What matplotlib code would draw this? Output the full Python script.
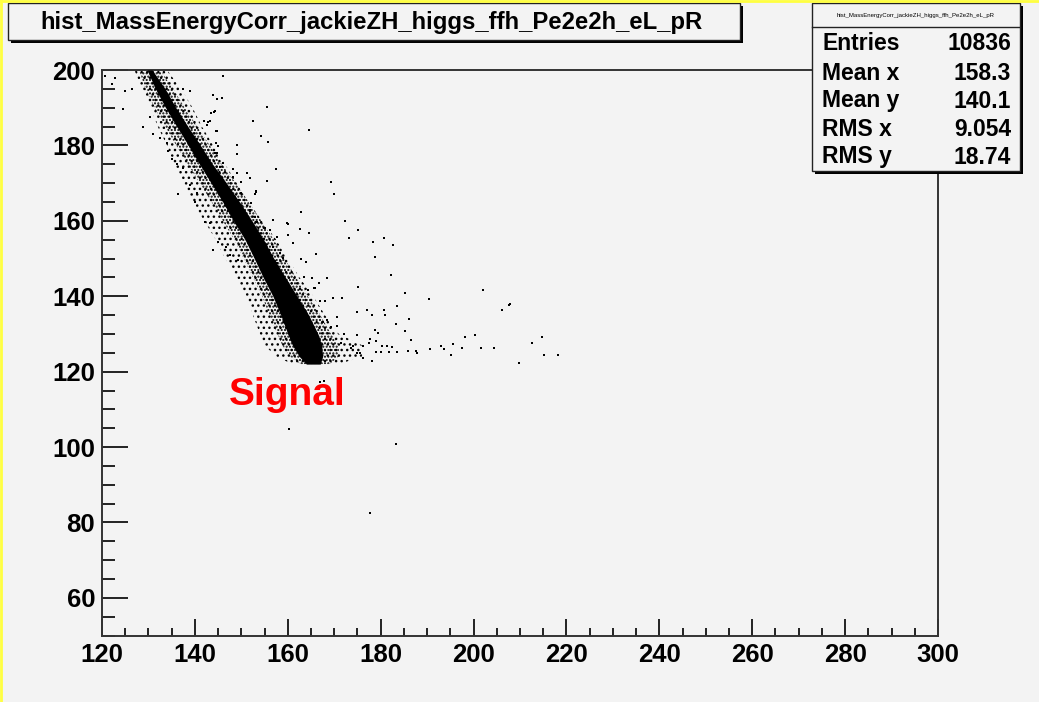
import matplotlib
matplotlib.use("Agg")
import matplotlib.pyplot as plt
from matplotlib.patches import Rectangle
from matplotlib.ticker import MultipleLocator

# ---------------- data ----------------
title = "hist_MassEnergyCorr_jackieZH_higgs_ffh_Pe2e2h_eL_pR"
stats_labels = ["Entries", "Mean x", "Mean y", "RMS x", "RMS y"]
stats_values = ["10836", "158.3", "140.1", "9.054", "18.74"]

x_ticks = [120, 140, 160, 180, 200, 220, 240, 260, 280, 300]
y_ticks = [60, 80, 100, 120, 140, 160, 180, 200]

# dense core of the correlation band (y level, left x, right x)
band_y = [200, 195, 190, 185, 180, 175, 170, 165, 160, 155, 150, 145, 140, 135, 130, 127, 124, 122]
core_left = [129.7, 131.5, 133.7, 136.1, 138.6, 141.0, 143.5, 146.0, 148.3, 150.8, 152.8, 154.7, 156.8, 158.5, 160.0, 161.0, 162.5, 164.0]
core_right = [130.8, 133.6, 135.9, 138.5, 141.2, 143.8, 146.8, 149.6, 152.3, 154.8, 157.0, 159.5, 162.0, 164.5, 166.5, 167.3, 167.5, 167.0]
# inner (dense) halo of scattered entries around the core
inner_left = [128.0, 129.3, 131.3, 133.6, 136.0, 138.5, 141.0, 143.6, 146.0, 148.5, 150.5, 152.5, 154.5, 156.0, 157.8, 158.8, 160.5, 162.8]
inner_right = [132.5, 135.3, 137.8, 140.5, 143.2, 145.8, 148.8, 151.6, 154.3, 157.0, 159.3, 161.8, 164.3, 167.0, 169.3, 171.0, 171.0, 169.0]
# outer (sparse) halo
outer_left = [127.0, 128.5, 130.5, 132.0, 134.0, 135.5, 137.5, 139.5, 142.0, 144.5, 146.5, 149.0, 151.0, 152.5, 154.0, 155.0, 157.5, 161.0]
outer_right = [134.0, 137.0, 139.5, 141.5, 144.0, 146.5, 149.0, 151.5, 154.5, 157.5, 160.0, 162.5, 165.5, 168.0, 171.0, 176.0, 176.0, 171.0]

# isolated entries
out_x = [169.3, 170.0, 162.9, 160.0, 162.6, 164.6, 172.3, 175.2, 173.2, 178.4, 180.7, 182.7, 166.1, 178.8,
         162.9, 163.9, 165.2, 168.4, 182.3, 175.2, 185.2, 190.4, 202.0, 183.6, 207.6, 207.8, 206.2, 169.7,
         171.7, 166.9, 168.1, 174.9, 177.1, 178.1, 180.7, 181.0, 186.0, 183.3, 185.2, 186.5, 174.8, 178.8,
         179.4, 198.2, 200.4, 193.0, 193.6, 195.5, 197.5, 201.7, 204.3, 190.7, 185.9, 187.5, 187.8, 183.6,
         181.9, 180.1, 179.1, 181.4, 182.5, 180.3, 179.0, 177.7, 177.5, 176.3, 175.5, 174.8, 176.1, 178.1,
         195.2, 209.8, 212.6, 214.7, 215.2, 218.2, 170.7, 170.7, 172.0, 171.4, 173.6, 174.1, 169.4, 167.6,
         168.4, 166.8, 165.7, 163.6, 164.4, 165.9,
         146.1, 143.8, 145.8, 138.9, 137.4, 155.5, 143.5, 144.2, 152.6, 164.6, 154.2, 155.8, 142.9, 142.0,
         144.5, 149.0, 149.0, 144.5, 144.8, 157.4, 155.5, 151.2, 151.9, 148.3, 149.0, 148.3, 149.9, 153.2,
         152.9, 149.9, 145.4, 146.1,
         120.6, 122.8, 122.1, 124.5, 128.9, 124.9, 126.4, 130.3, 144.0, 144.7, 144.3, 143.3, 142.5, 144.7,
         145.0, 144.3, 131.0, 132.5, 133.9, 134.3, 135.0, 136.1, 137.5,
         160.3, 183.3, 177.8, 166.9, 167.8,
         136.4, 138.9, 140.4, 140.0, 142.2, 143.3, 145.0, 143.9, 146.8, 147.6, 149.3,
         157.5, 153.2, 152.1, 151.9, 152.9, 153.4, 156.8, 159.8, 155.1, 156.2, 157.6, 160.1, 161.2, 156.9,
         158.3, 159.0, 155.5, 157.6]
out_y = [170.2, 167.0, 162.3, 159.2, 157.8, 156.7, 159.9, 157.5, 155.4, 154.3, 155.4, 153.5, 151.1, 150.3,
         149.8, 149.2, 144.8, 144.8, 145.6, 142.4, 140.8, 139.2, 141.6, 137.5, 137.7, 138.0, 136.4, 139.5,
         139.5, 138.7, 138.7, 135.9, 136.4, 135.1, 136.4, 135.1, 134.0, 132.7, 130.8, 128.4, 129.7, 131.1,
         130.3, 129.3, 129.6, 126.9, 125.9, 127.3, 126.4, 126.4, 126.4, 126.0, 125.6, 125.6, 124.9, 125.1,
         125.1, 125.3, 125.2, 126.9, 126.5, 126.9, 128.1, 128.6, 127.5, 126.9, 124.9, 124.9, 123.6, 122.8,
         124.4, 122.4, 127.6, 129.2, 124.4, 124.4, 134.6, 132.1, 130.0, 127.5, 126.4, 126.9, 131.9, 133.3,
         133.7, 143.4, 142.1, 145.2, 141.7, 142.1,
         198.5, 193.4, 192.5, 194.5, 194.9, 190.1, 188.5, 188.9, 186.5, 184.1, 182.5, 181.0, 186.1, 186.5,
         183.8, 180.1, 177.7, 180.6, 177.9, 173.7, 170.6, 172.6, 171.4, 173.7, 172.6, 171.7, 170.2, 167.9,
         167.0, 167.5, 174.2, 175.4,
         198.4, 198.0, 196.2, 189.7, 185.0, 194.4, 195.0, 187.6, 193.3, 192.2, 189.1, 186.5, 185.3, 183.8,
         179.8, 177.9, 182.9, 182.0, 180.7, 178.5, 176.3, 175.0, 174.1,
         104.9, 100.9, 82.6, 117.3, 117.5,
         167.1, 169.5, 167.3, 165.1, 159.8, 159.3, 154.5, 152.3, 153.1, 150.9, 149.6,
         173.7, 167.7, 164.6, 162.9, 161.1, 159.8, 160.2, 159.3, 158.0, 157.6, 155.8, 156.2, 154.0, 153.1,
         151.4, 150.1, 149.6, 148.7]

annot_text = "Signal"
annot_x, annot_y = 159.9, 111.2

# ---------------- figure ----------------
BG = "#f3f3f3"
plt.rcParams["font.family"] = ["Liberation Sans", "DejaVu Sans"]
plt.rcParams["hatch.linewidth"] = 1.0

fig = plt.figure(figsize=(10.39, 7.02), dpi=100, facecolor=BG)
W, H = 1039.0, 702.0
ax = fig.add_axes([102 / W, 1 - 635.6 / H, (938 - 102) / W, (635.6 - 70) / H])
ax.set_facecolor(BG)

ax.fill_betweenx(band_y, outer_left, outer_right, facecolor="none", edgecolor="black",
                 hatch="...", linewidth=0, zorder=2)
ax.fill_betweenx(band_y, inner_left, inner_right, facecolor="none", edgecolor="black",
                 hatch=".....", linewidth=0, zorder=2)
ax.fill_betweenx(band_y, core_left, core_right, color="black", linewidth=0, zorder=3)
ax.plot(out_x, out_y, ls="none", marker="s", ms=1.5, mew=0, color="black", zorder=4)

ax.set_xlim(120, 300)
ax.set_ylim(50, 200)
ax.set_xticks(x_ticks)
ax.set_yticks(y_ticks)
ax.xaxis.set_minor_locator(MultipleLocator(5))
ax.yaxis.set_minor_locator(MultipleLocator(5))
ax.tick_params(axis="both", which="both", direction="in", width=1.4, color="#222222",
               top=False, right=False)
ax.tick_params(axis="x", which="major", length=12.2, pad=5, labelsize=18.5)
ax.tick_params(axis="x", which="minor", length=5.8)
ax.tick_params(axis="y", which="major", length=18.7, pad=5, labelsize=18.5)
ax.tick_params(axis="y", which="minor", length=9.4)
for lab in ax.get_xticklabels() + ax.get_yticklabels():
    lab.set_fontweight("bold")
for sp in ax.spines.values():
    sp.set_linewidth(1.4)
    sp.set_color("#333333")

ax.text(annot_x, annot_y, annot_text, color="red", fontsize=28, fontweight="bold",
        ha="center", va="baseline", zorder=5)

# ---------------- boxes (figure pixel layout) ----------------
def fx(px):
    return px / W

def fy(py):
    return 1 - py / H

def box(x0, y0, x1, y1):
    # shadow
    fig.patches.append(Rectangle((fx(x0 + 3), fy(y1 + 3)), fx(x1 - x0), (y1 - y0) / H,
                                 transform=fig.transFigure, facecolor="black", edgecolor="none", zorder=9))
    fig.patches.append(Rectangle((fx(x0), fy(y1)), fx(x1 - x0), (y1 - y0) / H,
                                 transform=fig.transFigure, facecolor=BG, edgecolor="#222222",
                                 linewidth=1.0, zorder=10))

box(8, 3, 740, 40)
fig.text(fx(371), fy(22), title, ha="center", va="center", fontsize=17.2, fontweight="bold", zorder=11)

box(812, 3, 1020, 171)
fig.text(fx(916), fy(15), title, ha="center", va="center", fontsize=4.3, zorder=11)
fig.lines.append(plt.Line2D([fx(812), fx(1020)], [fy(27), fy(27)], transform=fig.transFigure,
                            color="#222222", lw=1.0, zorder=11))
row_y = [44, 73, 101, 129, 157]
for lab, val, ry in zip(stats_labels, stats_values, row_y):
    fig.text(fx(822), fy(ry), lab, ha="left", va="center", fontsize=16.5, fontweight="bold", zorder=11)
    fig.text(fx(1011), fy(ry), val, ha="right", va="center", fontsize=16.5, fontweight="bold", zorder=11)

# yellow frame edges of the screenshot
fig.lines.append(plt.Line2D([0, 1], [fy(1), fy(1)], transform=fig.transFigure, color="#ffff40", lw=2.0, zorder=20))
fig.lines.append(plt.Line2D([fx(1), fx(1)], [0, 1], transform=fig.transFigure, color="#ffff40", lw=2.0, zorder=20))

fig.savefig("out.png", dpi=100, facecolor=BG)
